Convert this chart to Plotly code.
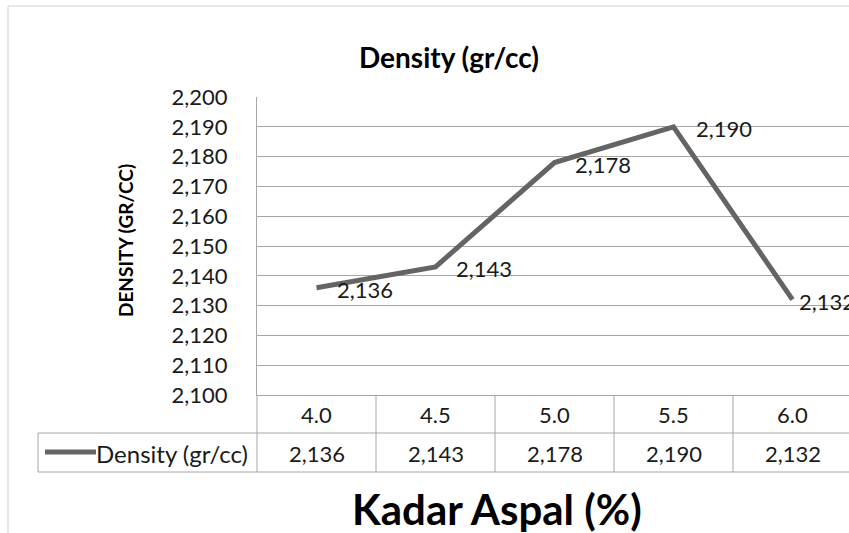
import plotly.graph_objects as go

# data
kadar = ["4.0", "4.5", "5.0", "5.5", "6.0"]
density = [2.136, 2.143, 2.178, 2.190, 2.132]
density_text = ["2,136", "2,143", "2,178", "2,190", "2,132"]
y_ticks = [2.100, 2.110, 2.120, 2.130, 2.140, 2.150, 2.160, 2.170, 2.180, 2.190, 2.200]
y_tick_text = ["2,100", "2,110", "2,120", "2,130", "2,140", "2,150",
               "2,160", "2,170", "2,180", "2,190", "2,200"]

W, H = 849, 533
L, R, T, B = 257, 849, 97, 395  # plot area in pixels
FONT = "Lato, Carlito, Calibri, sans-serif"
LINE_COL = "#646464"
GRID_COL = "#a6a6a6"


def px(x):
    return (x - L) / (R - L)


def py(y):
    return (B - y) / (B - T)


x_idx = list(range(len(kadar)))

fig = go.Figure()

fig.add_trace(go.Scatter(
    x=x_idx,
    y=density,
    mode="lines",
    name="Density (gr/cc)",
    line=dict(color=LINE_COL, width=5),
    showlegend=False,
))

annotations = []

# data labels (last one sits closer, as excel pulled it inside the chart)
label_shift = [18, 18, 18, 20, 4]
for i, (v, t) in enumerate(zip(density, density_text)):
    annotations.append(dict(
        x=i, y=v, xref="x", yref="y", text=t, showarrow=False,
        xanchor="left", yanchor="middle", xshift=label_shift[i], yshift=-2,
        font=dict(family=FONT, size=22, color="#1a1a1a"),
    ))

# data table text
for i, (k, t) in enumerate(zip(kadar, density_text)):
    annotations.append(dict(
        x=i, y=py(414), xref="x", yref="paper", text=k, showarrow=False,
        xanchor="center", yanchor="middle",
        font=dict(family=FONT, size=22, color="#1a1a1a"),
    ))
    annotations.append(dict(
        x=i, y=py(453), xref="x", yref="paper", text=t, showarrow=False,
        xanchor="center", yanchor="middle",
        font=dict(family=FONT, size=22, color="#1a1a1a"),
    ))

annotations.append(dict(
    x=px(250), y=py(453), xref="paper", yref="paper", text="Density (gr/cc)",
    showarrow=False, xanchor="right", yanchor="middle",
    font=dict(family=FONT, size=24, color="#1a1a1a"),
))

# y axis title
annotations.append(dict(
    x=px(125), y=py(241), xref="paper", yref="paper", text="<b>DENSITY (GR/CC)</b>",
    showarrow=False, textangle=-90, xanchor="center", yanchor="middle",
    font=dict(family=FONT, size=19, color="#000000"),
))

# x axis title
annotations.append(dict(
    x=px(497), y=py(509), xref="paper", yref="paper", text="<b>Kadar Aspal (%)</b>",
    showarrow=False, xanchor="center", yanchor="middle",
    font=dict(family=FONT, size=42, color="#000000"),
))

shapes = []
tbl = dict(color=GRID_COL, width=1)
# chart border
shapes.append(dict(type="line", xref="paper", yref="paper",
                   x0=px(8), x1=px(8), y0=py(6), y1=py(540), line=dict(color="#d0d0d0", width=1)))
shapes.append(dict(type="line", xref="paper", yref="paper",
                   x0=px(8), x1=px(860), y0=py(6), y1=py(6), line=dict(color="#d0d0d0", width=1)))
# table rows
for yy, x0 in [(433, 38), (472, 38)]:
    shapes.append(dict(type="line", xref="paper", yref="paper",
                       x0=px(x0), x1=px(860), y0=py(yy), y1=py(yy), line=tbl))
# table columns
shapes.append(dict(type="line", xref="paper", yref="paper",
                   x0=px(38), x1=px(38), y0=py(433), y1=py(472), line=tbl))
shapes.append(dict(type="line", xref="paper", yref="paper",
                   x0=0, x1=0, y0=py(395), y1=py(472), line=tbl))
for i in range(len(kadar) - 1):
    shapes.append(dict(type="line", xref="x", yref="paper",
                       x0=i + 0.5, x1=i + 0.5, y0=py(395), y1=py(472), line=tbl))
# legend key in table
shapes.append(dict(type="line", xref="paper", yref="paper",
                   x0=px(45), x1=px(96), y0=py(452), y1=py(452),
                   line=dict(color=LINE_COL, width=5)))

fig.update_layout(
    width=W, height=H,
    margin=dict(l=L, r=W - R, t=T, b=H - B),
    paper_bgcolor="white",
    plot_bgcolor="white",
    title=dict(
        text="<b>Density (gr/cc)</b>",
        x=449 / W, y=1 - 58 / H, xref="container", yref="container",
        xanchor="center", yanchor="middle",
        font=dict(family=FONT, size=28, color="#000000"),
    ),
    xaxis=dict(
        range=[-0.5, -0.5 + (R - L) / 119.0],
        showticklabels=False, showgrid=False, zeroline=False,
        showline=True, linecolor=GRID_COL, linewidth=1, ticks="",
        fixedrange=True,
    ),
    yaxis=dict(
        range=[2.100, 2.200],
        tickvals=y_ticks, ticktext=y_tick_text,
        showgrid=True, gridcolor=GRID_COL, gridwidth=1,
        showline=True, linecolor=GRID_COL, linewidth=1,
        zeroline=False, ticks="", ticklabelstandoff=24,
        tickfont=dict(family=FONT, size=22, color="#1a1a1a"),
        fixedrange=True,
    ),
    annotations=annotations,
    shapes=shapes,
    showlegend=False,
)

fig.write_html(
    "out.html",
    config=dict(displayModeBar=False),
    post_script="document.body.style.margin='0';document.body.style.overflow='hidden';",
)
